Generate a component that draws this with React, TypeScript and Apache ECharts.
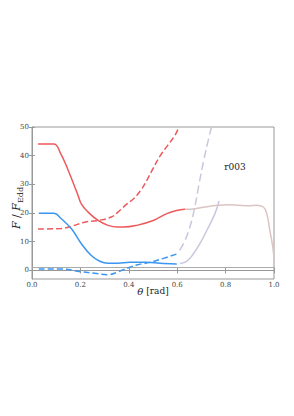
import React, { useEffect, useRef } from "react";
import * as echarts from "echarts";

const xTicks = [0, 0.2, 0.4, 0.6, 0.8, 1.0];
const yTicks = [0, 10, 20, 30, 40, 50];

const redSolid = [
  [0.025, 44.1], [0.09, 44.1], [0.117, 41], [0.149, 35], [0.19, 26.2], [0.205, 23],
  [0.231, 20.4], [0.273, 17.4], [0.314, 15.7], [0.355, 15.1], [0.377, 15.1],
  [0.433, 15.7], [0.501, 17.4], [0.557, 19.8], [0.598, 20.9], [0.632, 21.3],
];
const redFaded = [
  [0.632, 21.3], [0.674, 21.5], [0.715, 22.1], [0.77, 22.7], [0.811, 22.9],
  [0.853, 22.7], [0.894, 22.5], [0.928, 22.7], [0.956, 22.1], [0.97, 19.8],
  [0.983, 13.9], [0.997, 6.9], [1.0, 2.8],
];
const redDashed = [
  [0.025, 14.4], [0.121, 14.6], [0.163, 15.4], [0.218, 16.8], [0.273, 17.4],
  [0.328, 18.6], [0.355, 20.3], [0.39, 23], [0.42, 25], [0.45, 28], [0.475, 31.5],
  [0.5, 35.5], [0.53, 40], [0.56, 43.5], [0.59, 47], [0.607, 50],
];
const blueSolid = [
  [0.028, 19.9], [0.09, 19.9], [0.121, 18], [0.163, 14.5], [0.204, 9.3],
  [0.245, 5.2], [0.28, 3.2], [0.314, 2.5], [0.355, 2.5], [0.405, 2.8],
  [0.474, 2.8], [0.529, 2.5], [0.598, 2.2],
];
const blueDashed = [
  [0.028, 0.5], [0.12, 0.5], [0.204, -0.5], [0.259, -1], [0.314, -1.5],
  [0.348, -0.8], [0.377, 0.2], [0.433, 1.9], [0.488, 2.8], [0.543, 4.2], [0.598, 5.7],
];
const lavDashed = [
  [0.61, 7], [0.63, 10], [0.65, 14.5], [0.67, 21], [0.69, 30], [0.71, 38.5],
  [0.73, 46], [0.742, 50],
];
const lavSolid = [
  [0.612, 2.4], [0.64, 3.2], [0.667, 5.8], [0.695, 9.5], [0.722, 13.9],
  [0.756, 19.8], [0.773, 24.2],
];
const refLine = [[0, 1], [1, 1]];

const RED = "#ec5a5c";
const BLUE = "#3b96f2";
const LAV = "#c9c7dd";
const FADED = "#dcc4c4";
const FONT = "DejaVu Serif";

export default function App() {
  const ref = useRef<HTMLDivElement>(null);
  useEffect(() => {
    if (!ref.current) return;
    const chart = echarts.init(ref.current, null, { renderer: "svg" });
    const line = (data: number[][], color: string, dashed: boolean, z = 2, dash = [6, 3]) => ({
      type: "line",
      data,
      showSymbol: false,
      smooth: 0.45,
      z,
      lineStyle: { color, width: 1.5, type: dashed ? dash : "solid" },
    });
    chart.setOption({
      animation: false,
      grid: {
        left: 32, right: 20, top: 127, bottom: 137, show: true, borderColor: "#999", borderWidth: 1,
        backgroundColor: "transparent", outerBoundsMode: "none", containLabel: false,
      },
      textStyle: { fontFamily: FONT },
      xAxis: [
        {
          type: "value", min: 0, max: 1, interval: 0.2,
          axisLine: { lineStyle: { color: "#999" } },
          axisTick: { inside: true, length: 3, lineStyle: { color: "#999" } },
          splitLine: { show: false },
          axisLabel: { fontFamily: FONT, fontSize: 7, color: "#444", margin: 2, formatter: (v: number) => v.toFixed(1) },
        },
        {
          type: "value", min: 0, max: 1, interval: 0.2, position: "top",
          axisLine: { show: false },
          axisTick: { inside: true, length: 3, lineStyle: { color: "#999" } },
          axisLabel: { show: false },
          splitLine: { show: false },
        },
      ],
      yAxis: [
        {
          type: "value", min: -3, max: 50,
          axisLine: { show: true, lineStyle: { color: "#999" } },
          axisTick: { inside: true, length: 3, lineStyle: { color: "#999" }, customValues: yTicks },
          splitLine: { show: false },
          axisLabel: { fontFamily: FONT, fontSize: 7, color: "#444", margin: 3, customValues: yTicks },
        },
        {
          type: "value", min: -3, max: 50, position: "right",
          axisLine: { show: false },
          axisTick: { inside: true, length: 3, lineStyle: { color: "#999" }, customValues: yTicks },
          axisLabel: { show: false },
          splitLine: { show: false },
        },
      ],
      series: [
        { ...line(refLine, "#aaaaaa", false, 1), smooth: false, lineStyle: { color: "#aaaaaa", width: 1 } },
        line(lavSolid, LAV, false, 2),
        line(lavDashed, LAV, true, 2, [8, 4]),
        line(redFaded, FADED, false, 2),
        line(redSolid, RED, false, 3),
        line(redDashed, RED, true, 3),
        line(blueSolid, BLUE, false, 3),
        line(blueDashed, BLUE, true, 3),
      ],
      graphic: [
        {
          type: "text", x: 235, y: 167,
          style: { text: "r003", fontFamily: FONT, fontSize: 9, fill: "#222", align: "center", verticalAlign: "middle" },
        },
        {
          type: "text", x: 153, y: 291,
          style: {
            text: "{it|θ} [rad]", fontFamily: FONT, fontSize: 9, fill: "#222",
            align: "center", verticalAlign: "middle",
            rich: { it: { fontFamily: FONT, fontStyle: "italic", fontSize: 10, fill: "#222" } },
          },
        },
        {
          type: "text", x: 16, y: 208, rotation: Math.PI / 2,
          style: {
            text: "{it|F} / {it|F}{sub|Edd}", fontFamily: FONT, fontSize: 11, fill: "#222",
            align: "center", verticalAlign: "middle", lineHeight: 16,
            rich: {
              it: { fontFamily: FONT, fontStyle: "italic", fontSize: 11, fill: "#222", lineHeight: 16, verticalAlign: "middle" },
              sub: { fontFamily: FONT, fontSize: 8, fill: "#222", lineHeight: 8, verticalAlign: "bottom" },
            },
          },
        },
      ],
    });
    return () => chart.dispose();
  }, []);
  return <div ref={ref} style={{ width: 294, height: 416, position: "absolute", left: 0, top: 0 }} />;
}
